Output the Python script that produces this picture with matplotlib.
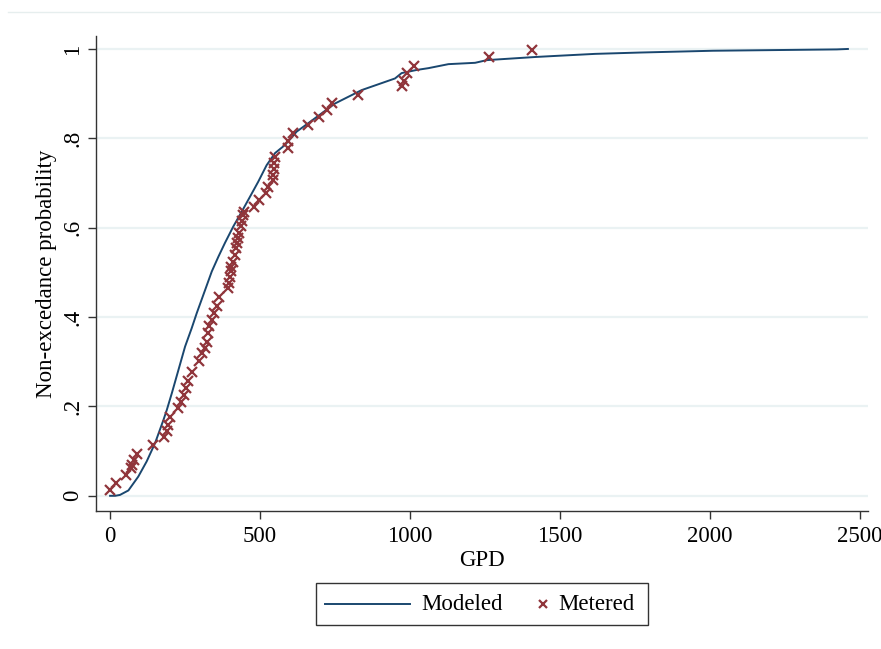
import matplotlib.pyplot as plt
from matplotlib.lines import Line2D
from matplotlib.patches import Rectangle

# Modeled curve (GPD, non-exceedance probability)
model_gpd = [0, 17, 33, 61, 94, 122, 150, 178, 189, 206, 228, 250, 272, 289, 317,
             339, 361, 383, 411, 439, 467, 494, 522, 550, 583, 622, 661, 750, 839,
             950, 972, 1022, 1061, 1128, 1217, 1256, 1417, 1473, 1617, 1767, 2010,
             2423, 2460]
model_prob = [0.0, 0.0, 0.002, 0.012, 0.043, 0.077, 0.118, 0.170, 0.192, 0.230,
              0.282, 0.334, 0.375, 0.409, 0.461, 0.502, 0.535, 0.566, 0.603, 0.636,
              0.670, 0.703, 0.740, 0.767, 0.785, 0.815, 0.834, 0.878, 0.908, 0.934,
              0.946, 0.953, 0.957, 0.966, 0.969, 0.975, 0.982, 0.984, 0.989, 0.992,
              0.996, 0.999, 1.0]

# Metered observations
meter_gpd = [0, 19, 52, 70, 72, 81, 91, 144, 181, 189, 194, 200, 228, 237, 248,
             252, 261, 274, 297, 306, 317, 322, 328, 331, 339, 347, 356, 363, 394,
             398, 400, 402, 403, 411, 417, 420, 423, 426, 430, 436, 439, 444, 448,
             481, 498, 519, 528, 542, 544, 548, 548, 550, 592, 594, 611, 661, 697,
             722, 739, 826, 974, 981, 991, 1014, 1264, 1406]
meter_prob = [0.013, 0.028, 0.047, 0.062, 0.068, 0.081, 0.093, 0.114, 0.131, 0.146,
              0.159, 0.176, 0.196, 0.211, 0.226, 0.241, 0.256, 0.278, 0.301, 0.319,
              0.330, 0.345, 0.364, 0.379, 0.394, 0.409, 0.424, 0.444, 0.465, 0.476,
              0.489, 0.502, 0.513, 0.524, 0.539, 0.554, 0.565, 0.576, 0.589, 0.604,
              0.614, 0.629, 0.636, 0.647, 0.662, 0.677, 0.692, 0.707, 0.718, 0.731,
              0.744, 0.759, 0.778, 0.793, 0.811, 0.830, 0.847, 0.864, 0.878, 0.897,
              0.916, 0.929, 0.946, 0.962, 0.981, 0.998]

x_ticks = [0, 500, 1000, 1500, 2000, 2500]
y_ticks = [0, 0.2, 0.4, 0.6, 0.8, 1.0]
y_ticklabels = ['0', '.2', '.4', '.6', '.8', '1']
series_names = ['Modeled', 'Metered']

navy = '#1a476f'
maroon = '#90353b'
grid_col = '#eaf2f3'
fs = 16.5

plt.rcParams['font.family'] = ['Liberation Serif', 'DejaVu Serif']

W, H = 881, 649
fig = plt.figure(figsize=(W / 100, H / 100), dpi=100)
ax = fig.add_axes([96 / W, 1 - 511 / H, 772 / W, 475 / H])

ax.plot(model_gpd, model_prob, color=navy, lw=1.4, zorder=3)
ax.plot(meter_gpd, meter_prob, ls='none', marker='x', color=maroon,
        markersize=7.5, markeredgewidth=1.6, zorder=4)

ax.set_xlim(-47, 2527)
ax.set_ylim(-0.034, 1.029)
ax.set_xticks(x_ticks)
ax.set_yticks(y_ticks)
ax.set_yticklabels(y_ticklabels, rotation=90, va='center')
ax.tick_params(axis='both', labelsize=fs, length=6, width=1, color='#333333', pad=5)
ax.tick_params(axis='y', pad=3)

ax.grid(axis='y', color=grid_col, lw=1.6)
ax.set_axisbelow(True)
for s in ['top', 'right']:
    ax.spines[s].set_visible(False)
for s in ['left', 'bottom']:
    ax.spines[s].set_color('#333333')
    ax.spines[s].set_linewidth(1)

ax.set_xlabel('GPD', fontsize=fs, labelpad=2)
ax.set_ylabel('Non-excedance probability', fontsize=fs, labelpad=4)

# legend drawn by hand, Stata style
def fx(px):
    return px / W

def fy(py):
    return 1 - py / H

fig.add_artist(Rectangle((fx(316), fy(625)), fx(648) - fx(316), fy(583) - fy(625),
                         transform=fig.transFigure, fill=False, edgecolor='#333333', lw=1))
fig.add_artist(Line2D([fx(325), fx(410)], [fy(604), fy(604)], color=navy, lw=1.4,
                      transform=fig.transFigure))
fig.text(fx(421), fy(604), series_names[0], fontsize=fs, va='center', ha='left')
fig.add_artist(Line2D([fx(543)], [fy(604)], ls='none', marker='x', color=maroon,
                      markersize=6, markeredgewidth=1.6, transform=fig.transFigure))
fig.text(fx(558), fy(604), series_names[1], fontsize=fs, va='center', ha='left')

fig.add_artist(Line2D([fx(8), 1], [fy(12), fy(12)], color='#e6eeee', lw=1,
                      transform=fig.transFigure))

fig.savefig('out.png', dpi=100)
